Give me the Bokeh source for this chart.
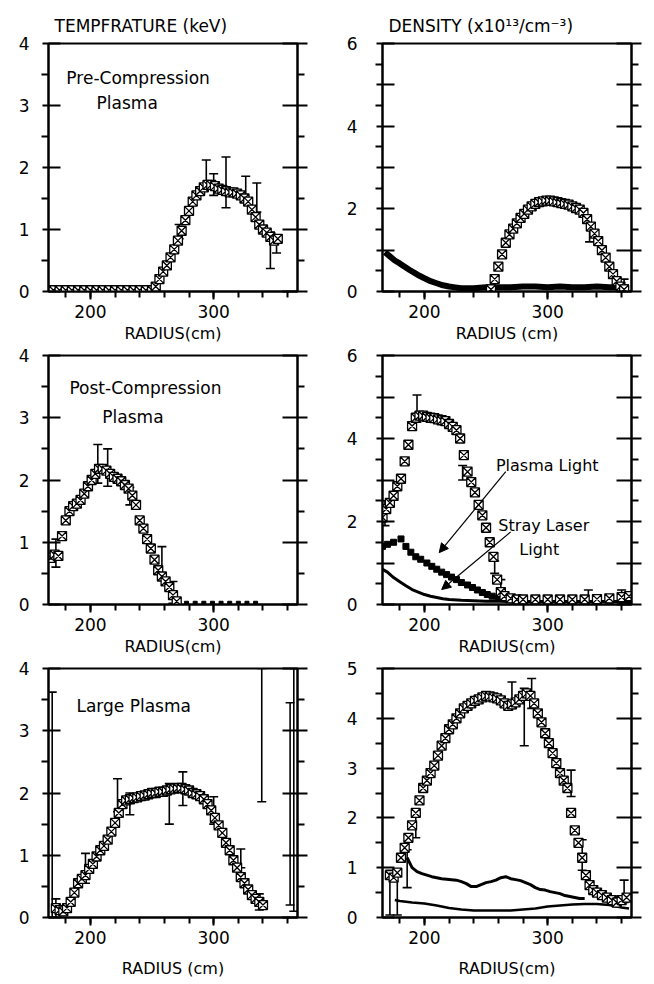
from bokeh.plotting import figure
from bokeh.models import (Range1d, FixedTicker, LinearAxis, Whisker, TeeHead,
                          ColumnDataSource, Label, Arrow, NormalHead)
from bokeh.layouts import column, row
from bokeh.embed import file_html
from bokeh.resources import INLINE

FONT = "DejaVu Sans"

# ---------------- data ----------------
x_major = [200, 300]
x_minor = [180, 200, 220, 240, 260, 280, 300, 320, 340, 360]
x_labels = ["RADIUS(cm)", "RADIUS (cm)", "RADIUS(cm)", "RADIUS(cm)", "RADIUS (cm)", "RADIUS(cm)"]

# Panel 1: temperature, pre-compression plasma
t_pre_r = [170, 175, 180, 185, 190, 195, 200, 205, 210, 215, 220, 225, 230, 235, 240, 245, 250,
           253, 256, 259, 262, 265, 268, 271, 274, 277, 280, 283, 286, 289, 292, 295, 298, 301,
           304, 307, 310, 313, 316, 319, 322, 325, 328, 331, 334, 337, 340, 343, 346, 349, 352]
t_pre_v = [0.02, 0.02, 0.02, 0.02, 0.02, 0.02, 0.02, 0.02, 0.02, 0.02, 0.02, 0.02, 0.02, 0.02, 0.02, 0.02, 0.02,
           0.08, 0.2, 0.32, 0.42, 0.55, 0.68, 0.82, 0.98, 1.15, 1.3, 1.45, 1.55, 1.62, 1.68, 1.72, 1.72, 1.7,
           1.66, 1.64, 1.62, 1.6, 1.6, 1.58, 1.55, 1.5, 1.45, 1.32, 1.2, 1.08, 1.0, 0.95, 0.88, 0.82, 0.85]
t_pre_err_r = [272, 294, 300, 310, 326, 335, 346, 351]
t_pre_err_lo = [0.85, 1.65, 1.55, 1.35, 1.5, 1.28, 0.37, 0.62]
t_pre_err_hi = [1.08, 2.12, 1.9, 2.17, 1.86, 1.75, 0.96, 0.9]

# Panel 2: density, pre-compression plasma
n_pre_r = [254, 257, 260, 263, 266, 269, 272, 275, 278, 281, 284, 287, 290, 293, 296, 299, 302, 305,
           308, 311, 314, 317, 320, 323, 326, 329, 332, 335, 338, 341, 344, 347, 350, 353, 356, 359, 362]
n_pre_v = [0.05, 0.3, 0.6, 0.9, 1.18, 1.38, 1.52, 1.65, 1.78, 1.88, 1.98, 2.06, 2.12, 2.16, 2.18, 2.2, 2.2, 2.18,
           2.16, 2.14, 2.12, 2.1, 2.06, 2.02, 1.98, 1.9, 1.75, 1.57, 1.4, 1.22, 1.0, 0.82, 0.6, 0.42, 0.25, 0.12, 0.05]
n_pre_low_r = [168, 172, 176, 180, 184, 188, 192, 196, 200, 205, 210, 215, 220, 225, 230, 240, 250, 260,
               270, 280, 290, 300, 310, 320, 330, 340, 350, 360, 366]
n_pre_low_v = [0.95, 0.85, 0.75, 0.68, 0.6, 0.52, 0.45, 0.38, 0.32, 0.25, 0.2, 0.15, 0.12, 0.1, 0.08, 0.08, 0.1, 0.1,
               0.1, 0.12, 0.12, 0.1, 0.12, 0.1, 0.1, 0.12, 0.1, 0.1, 0.1]
n_pre_err_r = [334, 362]
n_pre_err_lo = [1.2, 0.0]
n_pre_err_hi = [1.65, 0.3]

# Panel 3: temperature, post-compression plasma
t_post_r = [168, 171, 174, 177, 180, 183, 186, 189, 192, 195, 198, 201, 204, 207, 210, 213, 216, 219,
            222, 225, 228, 231, 234, 237, 240, 243, 246, 249, 252, 255, 258, 261, 264, 267, 270]
t_post_v = [0.75, 0.8, 0.78, 1.1, 1.35, 1.5, 1.58, 1.62, 1.68, 1.78, 1.9, 2.0, 2.1, 2.18, 2.18, 2.15, 2.1, 2.05,
            2.02, 1.98, 1.92, 1.86, 1.75, 1.6, 1.35, 1.22, 1.05, 0.9, 0.72, 0.55, 0.45, 0.37, 0.28, 0.15, 0.05]
t_post_zero_r = [278, 285, 292, 299, 306, 313, 320, 327, 334]
t_post_zero_v = [0.02, 0.02, 0.02, 0.02, 0.02, 0.02, 0.02, 0.02, 0.02]
t_post_err_r = [172, 206, 214, 232, 258, 267]
t_post_err_lo = [0.6, 1.95, 1.9, 1.6, 0.45, 0.02]
t_post_err_hi = [1.05, 2.57, 2.5, 1.88, 0.93, 0.37]

# Panel 4: density, post-compression plasma
n_post_r = [166, 169, 172, 175, 178, 181, 184, 187, 190, 193, 196, 199, 202, 205, 208, 211, 214, 217,
            220, 223, 226, 229, 232, 235, 238, 241, 244, 247, 250, 253, 256, 259, 262, 265, 270, 275,
            280, 290, 300, 310, 320, 330, 340, 350, 360, 366]
n_post_v = [2.1, 2.3, 2.45, 2.62, 2.85, 3.03, 3.45, 3.85, 4.3, 4.5, 4.55, 4.55, 4.52, 4.5, 4.49, 4.46, 4.44, 4.42,
            4.35, 4.28, 4.2, 4.0, 3.6, 3.2, 2.95, 2.7, 2.4, 2.15, 1.85, 1.5, 1.15, 0.6, 0.3, 0.2, 0.15, 0.12,
            0.12, 0.12, 0.12, 0.12, 0.12, 0.12, 0.13, 0.15, 0.18, 0.2]
plasma_light_r = [166, 170, 175, 181, 185, 189, 193, 197, 202, 206, 210, 214, 218, 222, 226, 230, 235, 239,
                  243, 247, 251, 255, 260, 270, 280, 290, 300, 310, 320, 330, 340, 350, 360, 366]
plasma_light_v = [1.4, 1.45, 1.5, 1.58, 1.4, 1.26, 1.15, 1.09, 1.0, 0.92, 0.85, 0.78, 0.72, 0.66, 0.6, 0.53, 0.47, 0.41,
                  0.35, 0.29, 0.24, 0.2, 0.15, 0.12, 0.1, 0.1, 0.1, 0.1, 0.1, 0.1, 0.1, 0.1, 0.1, 0.1]
stray_laser_r = [166, 170, 175, 180, 185, 190, 195, 200, 205, 210, 215, 220, 230, 240, 250, 260, 270, 280,
                 290, 300, 310, 320, 330, 340, 350, 360, 366]
stray_laser_v = [0.85, 0.78, 0.65, 0.55, 0.45, 0.36, 0.3, 0.24, 0.2, 0.17, 0.14, 0.12, 0.1, 0.09, 0.08, 0.08, 0.07, 0.07,
                 0.07, 0.07, 0.07, 0.07, 0.07, 0.07, 0.07, 0.07, 0.07]
n_post_err_r = [168, 194, 231, 257, 262, 333, 360]
n_post_err_lo = [1.9, 4.4, 3.0, 0.75, 0.1, 0.05, 0.05]
n_post_err_hi = [2.5, 5.05, 3.35, 1.05, 0.6, 0.35, 0.35]

# Panel 5: temperature, large plasma
t_large_r = [172, 175, 178, 181, 184, 187, 190, 193, 196, 199, 202, 205, 208, 211, 214, 217, 220, 223, 226,
             229, 232, 235, 238, 241, 244, 247, 250, 253, 256, 259, 262, 265, 268, 271, 274, 277, 280, 283,
             286, 289, 292, 295, 298, 301, 304, 307, 310, 313, 316, 319, 322, 325, 328, 331, 334, 337, 340]
t_large_v = [0.15, 0.12, 0.1, 0.15, 0.25, 0.4, 0.55, 0.62, 0.68, 0.78, 0.86, 0.98, 1.08, 1.15, 1.25, 1.38, 1.52, 1.68, 1.82,
             1.88, 1.9, 1.92, 1.93, 1.95, 1.96, 1.98, 2.0, 2.0, 2.02, 2.02, 2.04, 2.06, 2.07, 2.08, 2.08, 2.06, 2.04, 2.0,
             1.98, 1.95, 1.9, 1.82, 1.72, 1.6, 1.48, 1.36, 1.2, 1.08, 0.92, 0.8, 0.65, 0.55, 0.45, 0.36, 0.3, 0.25, 0.2]
t_large_err_r = [169, 172, 196, 222, 232, 264, 275, 300, 322, 337, 339, 362, 365]
t_large_err_lo = [0.0, 0.0, 0.55, 1.7, 1.65, 1.5, 1.8, 1.5, 0.8, 0.12, 1.86, 0.2, 0.1]
t_large_err_hi = [3.62, 0.3, 1.03, 2.23, 2.0, 2.15, 2.34, 1.94, 1.1, 0.38, 4.0, 3.45, 4.0]

# Panel 6: density, large plasma
n_large_r = [172, 175, 178, 181, 184, 187, 190, 193, 196, 199, 202, 205, 208, 211, 214, 217, 220, 223, 226,
             229, 232, 235, 238, 241, 244, 247, 250, 253, 256, 259, 262, 265, 268, 271, 274, 277, 280, 283,
             286, 289, 292, 295, 298, 301, 304, 307, 310, 313, 316, 319, 322, 325, 328, 331, 334, 337, 340,
             344, 348, 352, 356, 360, 364]
n_large_v = [0.85, 0.8, 0.9, 1.2, 1.4, 1.6, 1.85, 2.1, 2.35, 2.6, 2.75, 2.9, 3.05, 3.25, 3.45, 3.6, 3.78, 3.88, 4.0,
             4.1, 4.2, 4.25, 4.3, 4.35, 4.38, 4.42, 4.45, 4.44, 4.42, 4.4, 4.36, 4.3, 4.25, 4.28, 4.32, 4.38, 4.45, 4.5,
             4.45, 4.3, 4.1, 3.92, 3.7, 3.5, 3.3, 3.1, 2.9, 2.75, 2.6, 2.1, 1.75, 1.5, 1.2, 0.85, 0.65, 0.55, 0.5,
             0.45, 0.4, 0.35, 0.3, 0.35, 0.4]
n_large_mid_r = [186, 190, 194, 198, 202, 206, 210, 214, 218, 222, 226, 230, 234, 238, 242, 246, 250, 254, 258,
                 262, 266, 270, 274, 278, 282, 286, 290, 294, 298, 302, 306, 310, 314, 318, 322, 326, 330]
n_large_mid_v = [1.2, 1.0, 0.92, 0.88, 0.85, 0.82, 0.8, 0.78, 0.77, 0.76, 0.75, 0.72, 0.68, 0.62, 0.62, 0.66, 0.7, 0.72, 0.75,
                 0.8, 0.82, 0.78, 0.76, 0.74, 0.7, 0.66, 0.6, 0.56, 0.55, 0.52, 0.5, 0.48, 0.44, 0.42, 0.4, 0.38, 0.38]
n_large_low_r = [176, 180, 190, 200, 210, 220, 230, 240, 250, 260, 270, 280, 290, 300, 310, 320, 330, 340, 350, 360, 366]
n_large_low_v = [0.35, 0.33, 0.3, 0.28, 0.24, 0.19, 0.16, 0.14, 0.14, 0.14, 0.14, 0.16, 0.18, 0.22, 0.24, 0.26, 0.27,
                 0.27, 0.25, 0.2, 0.18]
n_large_err_r = [172, 178, 186, 193, 271, 281, 287, 319, 328, 362]
n_large_err_lo = [0.05, 0.05, 0.6, 1.6, 4.2, 3.45, 4.2, 2.43, 0.95, 0.3]
n_large_err_hi = [0.95, 0.88, 1.36, 2.17, 4.73, 4.6, 4.8, 2.96, 1.56, 0.75]

# ---------------- helpers ----------------
LEFT_W = (48, 249, 40)
RIGHT_W = (45, 249, 15)
ROWS = [(43, 250, 52), (10, 249, 54), (10, 249, 66)]
XLABEL_STANDOFF = [3, 3, 12]


def make_panel(col, rown, ymax, yticks, ylabel_hide, xlabel, title=None):
    lb, fw, rb = LEFT_W if col == 0 else RIGHT_W
    tb, fh, bb = ROWS[rown]
    p = figure(width=lb + fw + rb, height=tb + fh + bb,
               x_range=Range1d(166, 368), y_range=Range1d(0, ymax),
               output_backend="svg", toolbar_location=None, title=title,
               min_border_left=lb, min_border_right=rb, min_border_top=tb, min_border_bottom=bb)
    p.xgrid.visible = False
    p.ygrid.visible = False
    p.outline_line_color = "black"
    p.outline_line_width = 2
    p.background_fill_color = "white"
    p.border_fill_color = "white"
    if title is not None:
        p.title.text_font = FONT
        p.title.text_font_size = "17px"
        p.title.text_font_style = "normal"
        p.title.text_color = "black"
        p.title.offset = 6
        p.title.standoff = 15

    xa = p.xaxis[0]
    xa.ticker = FixedTicker(ticks=x_major, minor_ticks=x_minor)
    xa.major_tick_in = 0
    xa.major_tick_out = 8
    xa.minor_tick_in = 0
    xa.minor_tick_out = 6
    xa.axis_line_width = 2
    xa.major_tick_line_width = 2
    xa.minor_tick_line_width = 2
    xa.major_label_text_font = FONT
    xa.major_label_text_font_size = "17px"
    xa.major_label_text_color = "black"
    xa.major_label_standoff = 5
    xa.axis_label = xlabel
    xa.axis_label_text_font = FONT
    xa.axis_label_text_font_size = "16px"
    xa.axis_label_text_font_style = "normal"
    xa.axis_label_text_color = "black"
    xa.axis_label_standoff = XLABEL_STANDOFF[rown]

    minor = [t + 0.5 for t in yticks[:-1]]
    ya = p.yaxis[0]
    ya.ticker = FixedTicker(ticks=yticks, minor_ticks=minor)
    ya.major_tick_in = 12
    ya.major_tick_out = 6
    ya.minor_tick_in = 0
    ya.minor_tick_out = 7
    ya.axis_line_width = 2
    ya.major_tick_line_width = 2
    ya.minor_tick_line_width = 2
    ya.major_label_text_font = FONT
    ya.major_label_text_font_size = "17px"
    ya.major_label_text_color = "black"
    ya.major_label_standoff = 12 if col == 0 else 18
    ya.major_label_overrides = {t: "" for t in ylabel_hide}

    ra = LinearAxis(ticker=FixedTicker(ticks=yticks, minor_ticks=minor),
                    major_label_overrides={t: "" for t in yticks},
                    major_tick_in=15, major_tick_out=10, minor_tick_in=0, minor_tick_out=7,
                    axis_line_width=2, major_tick_line_width=2, minor_tick_line_width=2,
                    major_label_standoff=0, major_label_text_font_size="1px")
    p.add_layout(ra, "right")
    return p


def band(p, r, v, size=9):
    p.scatter(r, v, marker="square_x", size=size, line_color="black", fill_color="white", line_width=1.3)


def errs(p, r, lo, hi):
    src = ColumnDataSource(dict(r=r, lo=lo, hi=hi))
    w = Whisker(source=src, base="r", lower="lo", upper="hi", dimension="height",
                line_color="black", line_width=1.6,
                lower_head=TeeHead(size=9, line_width=1.6, line_color="black"),
                upper_head=TeeHead(size=9, line_width=1.6, line_color="black"))
    p.add_layout(w)


def note(p, x, y, text, size="17px"):
    p.add_layout(Label(x=x, y=y, text=text, text_font=FONT, text_font_size=size,
                       text_color="black", text_baseline="alphabetic"))


# ---------------- panel 1 ----------------
p1 = make_panel(0, 0, 4, [0, 1, 2, 3, 4], [], x_labels[0], title="TEMPFRATURE (keV)")
band(p1, t_pre_r, t_pre_v)
errs(p1, t_pre_err_r, t_pre_err_lo, t_pre_err_hi)
note(p1, 180.5, 3.44, "Pre-Compression")
note(p1, 205, 3.04, "Plasma")

# ---------------- panel 2 ----------------
p2 = make_panel(1, 0, 6, [0, 1, 2, 3, 4, 5, 6], [1, 3, 5], x_labels[1], title="DENSITY (x10¹³/cm⁻³)")
p2.line(n_pre_low_r, n_pre_low_v, line_color="black", line_width=6)
band(p2, n_pre_r, n_pre_v)
errs(p2, n_pre_err_r, n_pre_err_lo, n_pre_err_hi)

# ---------------- panel 3 ----------------
p3 = make_panel(0, 1, 4, [0, 1, 2, 3, 4], [], x_labels[2])
band(p3, t_post_r, t_post_v)
p3.scatter(t_post_zero_r, t_post_zero_v, marker="square", size=4, color="black")
errs(p3, t_post_err_r, t_post_err_lo, t_post_err_hi)
note(p3, 183, 3.47, "Post-Compression")
note(p3, 209.7, 3.02, "Plasma")

# ---------------- panel 4 ----------------
p4 = make_panel(1, 1, 6, [0, 1, 2, 3, 4, 5, 6], [1, 3, 5], x_labels[3])
p4.line(stray_laser_r, stray_laser_v, line_color="black", line_width=3)
p4.scatter(plasma_light_r, plasma_light_v, marker="square", size=6, color="black")
band(p4, n_post_r, n_post_v)
errs(p4, n_post_err_r, n_post_err_lo, n_post_err_hi)
note(p4, 258, 3.35, "Plasma Light", "16px")
note(p4, 260, 1.9, "Stray Laser", "16px")
note(p4, 277, 1.33, "Light", "16px")
p4.add_layout(Arrow(x_start=266, y_start=3.2, x_end=212, y_end=1.25, line_width=1.2, line_color="black",
                    end=NormalHead(size=9, fill_color="black", line_color="black")))
p4.add_layout(Arrow(x_start=270, y_start=1.75, x_end=214, y_end=0.36, line_width=1.2, line_color="black",
                    end=NormalHead(size=9, fill_color="black", line_color="black")))

# ---------------- panel 5 ----------------
p5 = make_panel(0, 2, 4, [0, 1, 2, 3, 4], [], x_labels[4])
band(p5, t_large_r, t_large_v)
errs(p5, t_large_err_r, t_large_err_lo, t_large_err_hi)
note(p5, 188.7, 3.39, "Large Plasma")

# ---------------- panel 6 ----------------
p6 = make_panel(1, 2, 5, [0, 1, 2, 3, 4, 5], [], x_labels[5])
p6.line(n_large_low_r, n_large_low_v, line_color="black", line_width=2.5)
p6.line(n_large_mid_r, n_large_mid_v, line_color="black", line_width=3)
band(p6, n_large_r, n_large_v)
errs(p6, n_large_err_r, n_large_err_lo, n_large_err_hi)

layout = column(row(p1, p2), row(p3, p4), row(p5, p6))
open("out.html", "w").write(file_html(layout, INLINE))
